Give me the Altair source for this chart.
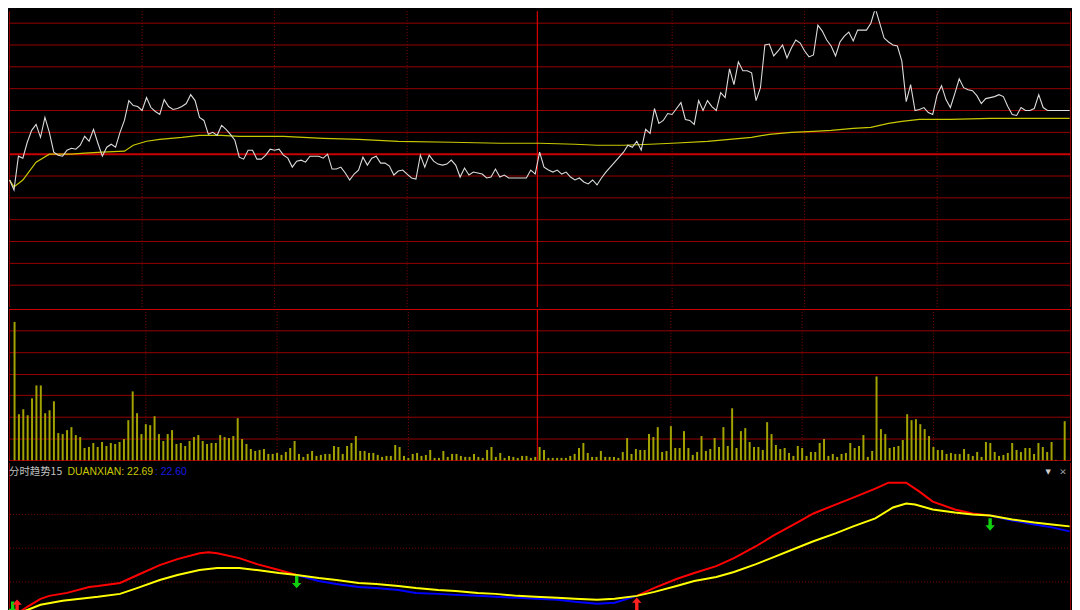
import altair as alt
import pandas as pd

# ---------------- data ----------------
# minute index 0..240 (09:30-11:30, 13:00-15:00)
price = [22.04, 21.94, 22.28, 22.26, 22.42, 22.54, 22.60, 22.47, 22.67, 22.52,
         22.32, 22.29, 22.28, 22.34, 22.36, 22.35, 22.39, 22.48, 22.43, 22.55,
         22.41, 22.28, 22.37, 22.40, 22.37, 22.52, 22.64, 22.84, 22.79, 22.78,
         22.74, 22.87, 22.77, 22.73, 22.70, 22.85, 22.78, 22.75, 22.76, 22.78,
         22.81, 22.90, 22.84, 22.67, 22.64, 22.50, 22.52, 22.49, 22.59, 22.55,
         22.50, 22.44, 22.27, 22.25, 22.34, 22.34, 22.25, 22.25, 22.29, 22.35,
         22.34, 22.35, 22.29, 22.26, 22.17, 22.23, 22.24, 22.22, 22.28, 22.28,
         22.28, 22.26, 22.30, 22.15, 22.15, 22.17, 22.11, 22.04, 22.10, 22.14,
         22.27, 22.19, 22.26, 22.28, 22.21, 22.21, 22.18, 22.09, 22.13, 22.14,
         22.10, 22.06, 22.05, 22.29, 22.17, 22.29, 22.23, 22.20, 22.19, 22.20,
         22.24, 22.19, 22.07, 22.16, 22.09, 22.12, 22.11, 22.10, 22.06, 22.07,
         22.15, 22.07, 22.09, 22.06, 22.06, 22.06, 22.06, 22.06, 22.14, 22.10,
         22.32,
         22.17, 22.14, 22.12, 22.14, 22.10, 22.12, 22.07, 22.04, 22.06, 22.02,
         22.00, 22.04, 21.99, 22.06, 22.12, 22.17, 22.22, 22.27,
         22.32, 22.39, 22.37, 22.43, 22.34, 22.55, 22.51, 22.76, 22.61, 22.64,
         22.71, 22.70, 22.76, 22.82, 22.65, 22.64, 22.60, 22.84, 22.74, 22.84,
         22.78, 22.74, 22.92, 22.87, 23.16, 23.00, 23.23, 23.14, 23.14, 23.12,
         22.84, 22.97, 23.40, 23.41, 23.29, 23.34, 23.40, 23.27, 23.37, 23.45,
         23.42, 23.34, 23.28, 23.30, 23.60, 23.54, 23.45, 23.39, 23.29, 23.43,
         23.49, 23.53, 23.44, 23.55, 23.55, 23.55, 23.62, 23.77, 23.62, 23.47,
         23.43, 23.40, 23.39, 23.24, 22.83, 23.00, 22.74, 22.75, 22.77, 22.72,
         22.70, 22.90, 22.99, 22.85, 22.77, 22.91, 23.06, 22.97, 22.95, 22.94,
         22.89, 22.81, 22.86, 22.87, 22.88, 22.90, 22.88, 22.78, 22.70, 22.69,
         22.77, 22.74, 22.74, 22.76, 22.90, 22.77, 22.74, 22.74, 22.74, 22.74,
         22.74, 22.74]

avg_minute = [0, 1, 3, 4, 6, 9, 14, 17, 21, 26, 28, 31, 34, 39, 43, 48, 52, 62, 71, 79,
              88, 100, 111, 120, 128, 133, 139, 145, 150, 158, 163, 168, 172, 177, 182,
              186, 191, 195, 197, 199, 202, 206, 213, 222, 231, 240]
avg_price = [22.04, 21.97, 22.04, 22.10, 22.22, 22.30, 22.30, 22.31, 22.32, 22.33,
             22.39, 22.43, 22.45, 22.47, 22.49, 22.49, 22.48, 22.48, 22.46, 22.45,
             22.43, 22.42, 22.41, 22.41, 22.40, 22.39, 22.39, 22.40, 22.41, 22.43,
             22.45, 22.47, 22.50, 22.52, 22.53, 22.54, 22.56, 22.57, 22.59, 22.61,
             22.63, 22.65, 22.65, 22.66, 22.66, 22.66]

# volume, in hundreds of lots
volume = [140, 47, 52, 46, 63, 76, 76, 48, 51, 60,
          28, 27, 31, 34, 26, 24, 13, 14, 18, 14,
          19, 15, 18, 17, 19, 22, 41, 70, 48, 27,
          37, 36, 45, 27, 20, 27, 31, 17, 18, 15,
          20, 24, 26, 20, 17, 18, 18, 26, 24, 23,
          25, 43, 22, 17, 12, 10, 11, 12, 7, 7,
          8, 6, 9, 13, 20, 7, 4, 7, 10, 5,
          6, 7, 7, 15, 14, 7, 15, 18, 25, 10,
          10, 8, 8, 6, 4, 5, 5, 16, 14, 5,
          3, 7, 8, 5, 6, 11, 3, 3, 10, 4,
          7, 7, 5, 4, 4, 7, 4, 3, 11, 14,
          4, 8, 3, 5, 4, 3, 5, 5, 3, 4,
          14, 11, 3, 3, 3, 3, 3, 5, 7, 13,
          18, 8, 4, 4, 10, 4, 4, 4, 3, 9,
          23, 7, 12, 11, 11, 27, 24, 34, 9, 10,
          35, 13, 13, 30, 13, 6, 9, 25, 10, 12,
          23, 14, 34, 15, 53, 13, 30, 33, 19, 14,
          14, 11, 39, 27, 16, 12, 13, 8, 5, 15,
          13, 5, 9, 9, 18, 22, 5, 7, 4, 7,
          8, 18, 13, 15, 26, 4, 10, 85, 32, 27,
          13, 14, 15, 21, 47, 41, 42, 37, 32, 25,
          14, 11, 11, 7, 8, 7, 7, 12, 7, 5,
          9, 4, 19, 18, 9, 5, 6, 8, 18, 11,
          9, 13, 13, 7, 18, 14, 9, 19, 1, 0,
          40]

# indicator panel "DUANXIAN"
yel_minute = [0, 3, 7, 12, 16, 20, 25, 29, 34, 38, 43, 47, 52, 56, 61, 65, 70, 74, 79, 83,
              88, 92, 97, 101, 106, 110, 115, 119, 124, 128, 133, 137, 142, 146, 151, 155,
              160, 164, 169, 173, 178, 182, 187, 191, 196, 200, 203, 205, 209, 214, 218,
              222, 227, 232, 236, 240]
yel_value = [21.81, 21.83, 21.90, 21.94, 21.96, 21.98, 22.01, 22.07, 22.15, 22.20,
             22.25, 22.27, 22.27, 22.25, 22.22, 22.20, 22.17, 22.15, 22.12, 22.11,
             22.09, 22.07, 22.05, 22.04, 22.02, 22.01, 21.99, 21.98, 21.97, 21.96,
             21.95, 21.96, 21.99, 22.03, 22.09, 22.14, 22.18, 22.23, 22.31, 22.38,
             22.47, 22.54, 22.62, 22.69, 22.77, 22.88, 22.92, 22.91, 22.86, 22.83,
             22.81, 22.80, 22.76, 22.73, 22.71, 22.69]
line2_minute = [2, 4, 7, 9, 13, 18, 20, 25, 29, 34, 38, 43, 45, 47, 52, 56, 61, 65, 70, 74,
                79, 83, 88, 92, 97, 101, 106, 110, 115, 119, 124, 128, 133, 137, 142, 146,
                151, 155, 160, 164, 169, 173, 178, 182, 187, 191, 196, 199, 203, 206, 209,
                214, 218, 222, 227, 232, 236, 240]
line2_value = [21.82, 21.88, 21.96, 21.99, 22.02, 22.08, 22.09, 22.12, 22.20, 22.30,
               22.36, 22.42, 22.43, 22.42, 22.37, 22.31, 22.25, 22.20, 22.14, 22.11,
               22.08, 22.07, 22.05, 22.02, 22.01, 22.00, 21.99, 21.98, 21.97, 21.96,
               21.95, 21.93, 21.91, 21.92, 21.99, 22.07, 22.16, 22.22, 22.29, 22.37,
               22.49, 22.60, 22.72, 22.82, 22.91, 22.98, 23.07, 23.13, 23.13, 23.04,
               22.94, 22.86, 22.82, 22.80, 22.75, 22.71, 22.68, 22.64]
cross_minutes = [65, 142, 222]

arrow_minute = [0.7, 1.7, 65, 142, 222]
arrow_value = [21.87, 21.89, 22.13, 21.91, 22.71]
arrow_dir = ["down", "up", "down", "up", "down"]

panel_labels = ["分时趋势15", "DUANXIAN: 22.69", ": 22.60"]
icon_labels = ["▼", "✕"]

# grid / reference values
prev_close = 22.30
price_grid = [20.98, 21.20, 21.42, 21.64, 21.86, 22.08, 22.52, 22.74, 22.96, 23.18, 23.40, 23.62]
price_domain = [20.76, 23.74]
vol_domain = [0, 153]
vol_grid = [22, 44, 66, 87, 109, 131]
ind_domain = [21.82, 23.33]
ind_grid = [22.13, 22.47, 22.81]
vgrid_minutes = [30, 60, 90, 150, 180, 210]
mid_minute = [119.5]

# ---------------- layout / style ----------------
X_DOMAIN = [-0.135, 240.31]
W = 1070
H_PRICE, H_VOL, H_IND = 298, 153, 151

GRID = "#960000"
GRID_DARK = "#7a0000"
BRIGHT = "#c80000"


def xq():
    return alt.X("minute:Q", scale=alt.Scale(domain=X_DOMAIN, nice=False, zero=False), axis=None)


def yq(field, domain):
    return alt.Y(f"{field}:Q", scale=alt.Scale(domain=domain, nice=False, zero=False), axis=None)


def borders(h, color):
    d = pd.DataFrame({"k": [0]})
    left = alt.Chart(d).mark_rule(color=color, strokeWidth=1).encode(
        x=alt.value(0.5), y=alt.value(0), y2=alt.value(h))
    right = alt.Chart(d).mark_rule(color=color, strokeWidth=1).encode(
        x=alt.value(W - 0.5), y=alt.value(0), y2=alt.value(h))
    return [left, right]


vgrid_df = pd.DataFrame({"minute": vgrid_minutes})
mid_df = pd.DataFrame({"minute": mid_minute})


def vlines():
    dots = alt.Chart(vgrid_df).mark_rule(color="#8a0000", strokeWidth=1, strokeDash=[1, 2]).encode(x=xq())
    mid = alt.Chart(mid_df).mark_rule(color="#d00000", strokeWidth=1.3).encode(x=xq())
    return [dots, mid]


# ---- price panel ----
price_df = pd.DataFrame({"minute": list(range(len(price))), "price": price})
avg_df = pd.DataFrame({"minute": avg_minute, "price": avg_price})
p_h = alt.Chart(pd.DataFrame({"price": price_grid})).mark_rule(color=GRID, strokeWidth=1).encode(
    y=yq("price", price_domain))
p_c = alt.Chart(pd.DataFrame({"price": [prev_close]})).mark_rule(color=BRIGHT, strokeWidth=2).encode(
    y=yq("price", price_domain))
p_avg = alt.Chart(avg_df).mark_line(color="#c8c800", strokeWidth=1.2, clip=True).encode(
    x=xq(), y=yq("price", price_domain))
p_line = alt.Chart(price_df).mark_line(color="#dcdcdc", strokeWidth=1.1, clip=True).encode(
    x=xq(), y=yq("price", price_domain))
price_panel = alt.layer(p_h, *vlines(), p_c, *borders(H_PRICE, GRID), p_avg, p_line).properties(
    width=W, height=H_PRICE)

# ---- volume panel ----
vol_df = pd.DataFrame({"minute": list(range(len(volume))), "volume": volume})
v_h = alt.Chart(pd.DataFrame({"volume": vol_grid})).mark_rule(color=GRID, strokeWidth=1).encode(
    y=yq("volume", vol_domain))
v_top = alt.Chart(pd.DataFrame({"volume": [vol_domain[1]]})).mark_rule(
    color=BRIGHT, strokeWidth=2, clip=True).encode(y=yq("volume", vol_domain))
v_bot = alt.Chart(pd.DataFrame({"volume": [0]})).mark_rule(
    color=BRIGHT, strokeWidth=1.5, clip=True).encode(y=yq("volume", vol_domain))
v_bars = alt.Chart(vol_df).mark_bar(width=2, color="#a3a300", clip=True).encode(
    x=xq(), y=alt.Y("volume:Q", scale=alt.Scale(domain=vol_domain, nice=False), axis=None))
vol_panel = alt.layer(v_h, *vlines(), *borders(H_VOL, GRID), v_top, v_bars, v_bot).properties(
    width=W, height=H_VOL)

# ---- indicator panel ----
rows = []
seg = 0
for m, v in zip(line2_minute, line2_value):
    rows.append({"minute": m, "value": v, "seg": seg})
    if m in cross_minutes:
        seg += 1
        rows.append({"minute": m, "value": v, "seg": seg})
l2_df = pd.DataFrame(rows)
l2_df["state"] = ["up" if s % 2 == 0 else "down" for s in l2_df["seg"]]
yel_df = pd.DataFrame({"minute": yel_minute, "value": yel_value})
arr_df = pd.DataFrame({"minute": arrow_minute, "value": arrow_value, "dir": arrow_dir})

DOWN = "M-0.27,-1L0.27,-1L0.27,0.15L0.75,0.15L0,1L-0.75,0.15L-0.27,0.15Z"
UP = "M-0.27,1L0.27,1L0.27,-0.15L0.75,-0.15L0,-1L-0.75,-0.15L-0.27,-0.15Z"

i_h = alt.Chart(pd.DataFrame({"value": ind_grid})).mark_rule(
    color=GRID_DARK, strokeWidth=1, strokeDash=[1, 2]).encode(y=yq("value", ind_domain))
i_l2 = alt.Chart(l2_df).mark_line(strokeWidth=2, clip=True).encode(
    x=xq(), y=yq("value", ind_domain), detail="seg:N", order="minute:Q",
    color=alt.Color("state:N", scale=alt.Scale(domain=["up", "down"], range=["#ff0000", "#0000ff"]),
                    legend=None))
i_yel = alt.Chart(yel_df).mark_line(strokeWidth=2, color="#ffff00", clip=True).encode(
    x=xq(), y=yq("value", ind_domain))
i_down = alt.Chart(arr_df).transform_filter(alt.datum.dir == "down").mark_point(
    shape=DOWN, filled=True, size=160, color="#10d010", opacity=1, clip=True).encode(
    x=xq(), y=yq("value", ind_domain))
i_up = alt.Chart(arr_df).transform_filter(alt.datum.dir == "up").mark_point(
    shape=UP, filled=True, size=160, color="#ff2020", opacity=1, clip=True).encode(
    x=xq(), y=yq("value", ind_domain))

lab_df = pd.DataFrame({"text": panel_labels})
t0 = alt.Chart(lab_df.iloc[[0]]).mark_text(
    align="left", baseline="middle", font="Noto Sans CJK SC", fontSize=10.5, color="#c0c0c0").encode(
    x=alt.value(0), y=alt.value(9), text="text:N")
t1 = alt.Chart(lab_df.iloc[[1]]).mark_text(
    align="left", baseline="middle", font="Liberation Sans", fontSize=10.5, color="#c8c800").encode(
    x=alt.value(59), y=alt.value(9), text="text:N")
t2 = alt.Chart(lab_df.iloc[[2]]).mark_text(
    align="left", baseline="middle", font="Liberation Sans", fontSize=10.5, color="#1818e0").encode(
    x=alt.value(147), y=alt.value(9), text="text:N")
icon_df = pd.DataFrame({"text": icon_labels})
ic0 = alt.Chart(icon_df.iloc[[0]]).mark_text(
    align="center", baseline="middle", font="DejaVu Sans", fontSize=7, color="#d0d0d0").encode(
    x=alt.value(1047), y=alt.value(9), text="text:N")
ic1 = alt.Chart(icon_df.iloc[[1]]).mark_text(
    align="center", baseline="middle", font="DejaVu Sans", fontSize=9, color="#a0a0a0").encode(
    x=alt.value(1062), y=alt.value(9), text="text:N")

ind_panel = alt.layer(i_h, *borders(H_IND, GRID), i_l2, i_yel, i_down, i_up,
                      t0, t1, t2, ic0, ic1).properties(width=W, height=H_IND)

chart = alt.vconcat(price_panel, vol_panel, ind_panel, spacing=0).properties(
    padding=0
).configure(background="#000000").configure_view(strokeWidth=0)

chart.save("out.html", embed_options={"renderer": "svg", "actions": False})
